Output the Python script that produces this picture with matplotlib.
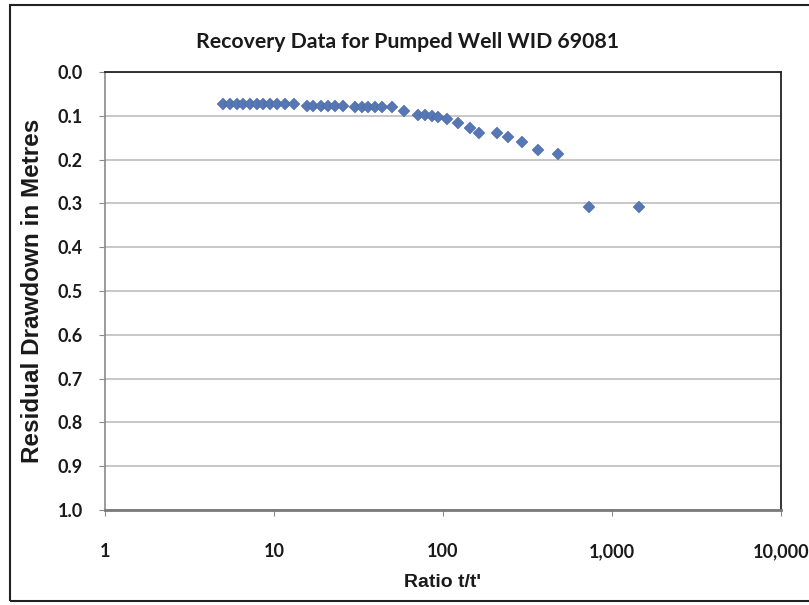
import matplotlib.pyplot as plt
import matplotlib.ticker as mticker
from matplotlib.patches import Rectangle

# ratio t/t' and residual drawdown (m)
ratio = [4.99, 5.49, 6.04, 6.56, 7.21, 7.93, 8.61, 9.47, 10.4, 11.6, 13.1,
         15.7, 17.0, 19.0, 20.9, 23.0, 25.6,
         30.2, 33.2, 36.0, 39.6, 43.6, 49.9,
         58.8, 71.1, 78.3, 86.1, 93.4, 105.6, 122.7, 144.5, 163.3,
         208.7, 242.4, 293.4, 364.8, 479.2, 731, 1445]
drawdown = [0.073] * 11 + [0.078] * 6 + [0.080] * 6 + \
           [0.089, 0.099, 0.099, 0.100, 0.102, 0.107, 0.116, 0.128, 0.139,
            0.139, 0.148, 0.160, 0.178, 0.187, 0.308, 0.308]

x_ticks = [1, 10, 100, 1000, 10000]
y_ticks = [round(0.1 * i, 1) for i in range(11)]

W, H = 809, 605
fig = plt.figure(figsize=(W / 100, H / 100), dpi=100)
ax = fig.add_axes([105 / W, 1 - 510 / H, 676 / W, 438 / H])

# outer chart border
fig.patches.append(Rectangle((10 / W, 1 - 601 / H), 820 / W, 596 / H,
                             transform=fig.transFigure, fill=False,
                             edgecolor='#222222', linewidth=1.5))

ax.plot(ratio, drawdown, 'D', color='#5677B3', markersize=6,
        markeredgewidth=0.3, markeredgecolor='#44649f', zorder=3)

ax.set_xscale('log')
ax.set_xlim(1, 10000)
ax.set_ylim(1.0, 0.0)
ax.set_xticks(x_ticks)
ax.xaxis.set_major_formatter(mticker.FuncFormatter(lambda v, p: f'{int(v):,}'))
ax.xaxis.set_minor_locator(mticker.NullLocator())
ax.set_yticks(y_ticks)
ax.yaxis.set_major_formatter(mticker.FormatStrFormatter('%.1f'))

ax.grid(axis='y', color='#b8b8b8', linewidth=1.1)
ax.set_axisbelow(True)

for s in ['top', 'right']:
    ax.spines[s].set_color('#222222')
    ax.spines[s].set_linewidth(1.3)
ax.spines['left'].set_color('#8a8a8a')
ax.spines['left'].set_linewidth(1.2)
ax.spines['bottom'].set_color('#7a7a7a')
ax.spines['bottom'].set_linewidth(2)

tick_font = dict(family=['Lato', 'DejaVu Sans'], weight='bold', size=13)
ax.tick_params(axis='both', direction='out', length=4, color='#8a8a8a')
ax.tick_params(axis='x', pad=20)
ax.tick_params(axis='y', pad=12)
for lab in ax.get_xticklabels() + ax.get_yticklabels():
    lab.set_fontproperties(tick_font)
    lab.set_color('#1a1a1a')

ax.set_xlabel("Ratio t/t'", family='Liberation Sans', weight='bold',
              fontsize=14, color='#1a1a1a', labelpad=10)
fig.text(33 / W, 1 - 291 / H, 'Residual Drawdown in Metres', rotation=90,
         ha='center', va='center', family='Liberation Sans', weight='bold',
         fontsize=17.5, color='#1a1a1a')
fig.text(408 / W, 1 - 42 / H, 'Recovery Data for Pumped Well WID 69081',
         ha='center', va='center', family=['Lato', 'DejaVu Sans'],
         weight='bold', fontsize=15.3, color='#1a1a1a')

fig.savefig('out.png', dpi=100)
